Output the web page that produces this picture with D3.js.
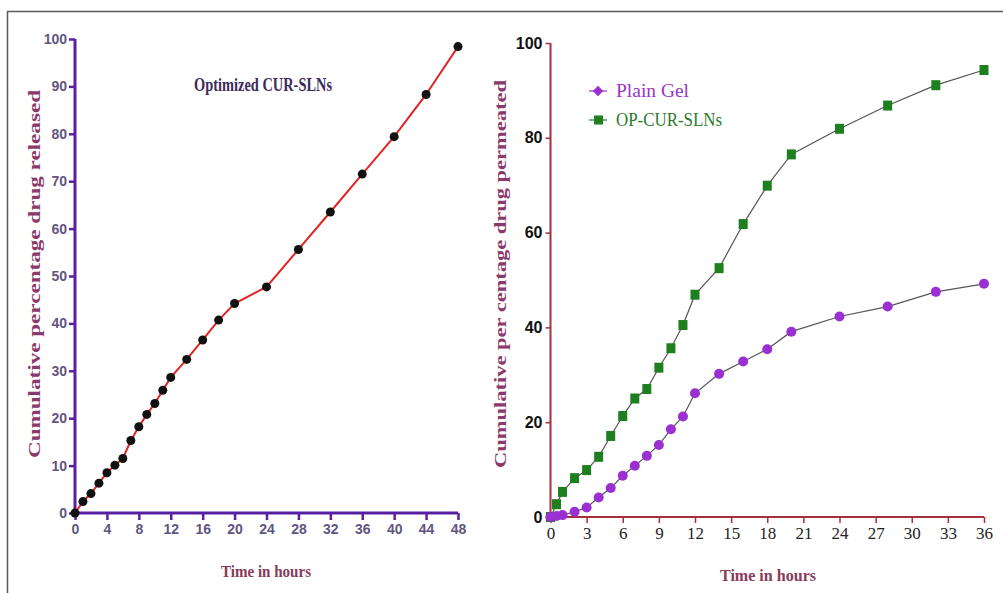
<!DOCTYPE html>
<html>
<head>
<meta charset="utf-8">
<script src="https://cdn.jsdelivr.net/npm/d3@7"></script>
<style>
  body { margin: 0; background: #fff; }
  svg { display: block; }
</style>
</head>
<body>
<div id="chart"></div>
<script>
// left panel: release
const relHours = [0, 1, 2, 3, 4, 5, 6, 7, 8, 9, 10, 11, 12, 14, 16, 18, 20, 24, 28, 32, 36, 40, 44, 48];
const relValues = [0, 2.4, 4.1, 6.3, 8.5, 10.1, 11.5, 15.3, 18.2, 20.8, 23.1, 25.9, 28.6, 32.4, 36.5, 40.7, 44.2, 47.7, 55.6, 63.5, 71.5, 79.4, 88.3, 98.4];
const relXTicks = [0, 4, 8, 12, 16, 20, 24, 28, 32, 36, 40, 44, 48];
const relYTicks = [0, 10, 20, 30, 40, 50, 60, 70, 80, 90, 100];

// right panel: permeation
const permHours = [0, 0.5, 1, 2, 3, 4, 5, 6, 7, 8, 9, 10, 11, 12, 14, 16, 18, 20, 24, 28, 32, 36];
const plainGel = [0, 0.2, 0.4, 1.1, 2.0, 4.1, 6.1, 8.7, 10.8, 12.9, 15.2, 18.5, 21.2, 26.1, 30.2, 32.8, 35.4, 39.1, 42.3, 44.4, 47.5, 49.2];
const opCurSlns = [0, 2.7, 5.3, 8.2, 9.9, 12.7, 17.1, 21.3, 25.0, 27.0, 31.5, 35.6, 40.5, 46.9, 52.5, 61.8, 69.9, 76.5, 81.9, 86.8, 91.1, 94.3];
const permXTicks = [0, 3, 6, 9, 12, 15, 18, 21, 24, 27, 30, 33, 36];
const permYTicks = [0, 20, 40, 60, 80, 100];
const seriesNames = ["Plain Gel", "OP-CUR-SLNs"];

const width = 1003, height = 593;
const svg = d3.select("#chart").append("svg")
  .attr("width", width).attr("height", height);

// frame (top + left only)
svg.append("path")
  .attr("d", "M7.5,593V11.5H1003")
  .attr("fill", "none").attr("stroke", "#5a5a5a").attr("stroke-width", 1.5);

const serif = "'Liberation Serif', 'Times New Roman', serif";
const narrow = "'Liberation Sans Narrow', 'Arial Narrow', 'Liberation Sans', sans-serif";

// ---------- left panel ----------
const lx = d3.scaleLinear().domain([0, 48]).range([75, 458]);
const ly = d3.scaleLinear().domain([0, 100]).range([513, 39]);
const leftAxisColor = "#5b1fa6";
const leftTickColor = "#5f5682";

const gLeft = svg.append("g");

const lyAxis = gLeft.append("g")
  .attr("transform", `translate(${lx(0)},0)`)
  .call(d3.axisLeft(ly).tickValues(relYTicks).tickSize(6).tickPadding(2));
const lxAxis = gLeft.append("g")
  .attr("transform", `translate(0,${ly(0)})`)
  .call(d3.axisBottom(lx).tickValues(relXTicks).tickSize(7).tickPadding(4));

[lyAxis, lxAxis].forEach(a => {
  a.select(".domain").attr("stroke", leftAxisColor).attr("stroke-width", 3);
  a.selectAll(".tick line").attr("stroke", leftAxisColor).attr("stroke-width", 2.5);
  a.selectAll(".tick text")
    .attr("fill", leftTickColor)
    .style("font-family", narrow)
    .style("font-weight", "bold")
    .style("font-size", "14px");
});
// remove outer tick overhang
lyAxis.select(".domain").attr("d", `M0,${ly(100)}V${ly(0)}`);
lxAxis.select(".domain").attr("d", `M${lx(0)},0H${lx(48)}`);

gLeft.append("path")
  .datum(relHours.map((h, i) => [h, relValues[i]]))
  .attr("fill", "none")
  .attr("stroke", "#e02424")
  .attr("stroke-width", 2)
  .attr("d", d3.line().x(d => lx(d[0])).y(d => ly(d[1])));

gLeft.selectAll(".relpt")
  .data(relHours.map((h, i) => [h, relValues[i]]))
  .join("circle")
  .attr("class", "relpt")
  .attr("cx", d => lx(d[0]))
  .attr("cy", d => ly(d[1]))
  .attr("r", 4.5)
  .attr("fill", "#111");

gLeft.append("text")
  .attr("x", 263).attr("y", 91)
  .attr("text-anchor", "middle")
  .attr("fill", "#3d2b5a")
  .style("font-family", serif).style("font-weight", "bold").style("font-size", "19px")
  .attr("textLength", 138).attr("lengthAdjust", "spacingAndGlyphs")
  .text("Optimized CUR-SLNs");

gLeft.append("text")
  .attr("transform", "translate(40,274) rotate(-90)")
  .attr("text-anchor", "middle")
  .attr("fill", "#8a3a6a")
  .style("font-family", serif).style("font-weight", "bold").style("font-size", "16px")
  .attr("textLength", 368).attr("lengthAdjust", "spacingAndGlyphs")
  .text("Cumulative percentage drug released");

gLeft.append("text")
  .attr("x", 266).attr("y", 577)
  .attr("text-anchor", "middle")
  .attr("fill", "#8a3a5a")
  .style("font-family", serif).style("font-weight", "bold").style("font-size", "17px")
  .attr("textLength", 90).attr("lengthAdjust", "spacingAndGlyphs")
  .text("Time in hours");

// ---------- right panel ----------
const rx = d3.scaleLinear().domain([0, 36]).range([550.5, 984]);
const ry = d3.scaleLinear().domain([0, 100]).range([517, 43]);
const rightAxisColor = "#a3303f";

const gRight = svg.append("g");

const ryAxis = gRight.append("g")
  .attr("transform", `translate(${rx(0)},0)`)
  .call(d3.axisLeft(ry).tickValues(permYTicks).tickSize(5).tickPadding(3));
const rxAxis = gRight.append("g")
  .attr("transform", `translate(0,${ry(0)})`)
  .call(d3.axisBottom(rx).tickValues(permXTicks).tickSize(6).tickPadding(4));

ryAxis.select(".domain").attr("d", `M0,${ry(100)}V${ry(0)}`);
rxAxis.select(".domain").attr("d", `M${rx(0)},0H${rx(36)}`);
[ryAxis, rxAxis].forEach(a => {
  a.select(".domain").attr("stroke", rightAxisColor).attr("stroke-width", 2);
  a.selectAll(".tick line").attr("stroke", rightAxisColor).attr("stroke-width", 1.5);
});
ryAxis.selectAll(".tick text")
  .attr("fill", "#111")
  .style("font-family", narrow).style("font-weight", "bold").style("font-size", "16px");
rxAxis.selectAll(".tick text")
  .attr("fill", "#222")
  .style("font-family", serif).style("font-size", "17px");

const line = d3.line().x(d => rx(d[0])).y(d => ry(d[1]));
const plainPts = permHours.map((h, i) => [h, plainGel[i]]);
const opPts = permHours.map((h, i) => [h, opCurSlns[i]]);

[plainPts, opPts].forEach(pts => {
  gRight.append("path")
    .datum(pts)
    .attr("fill", "none")
    .attr("stroke", "#555")
    .attr("stroke-width", 1.2)
    .attr("d", line);
});

gRight.selectAll(".oppt")
  .data(opPts)
  .join("rect")
  .attr("class", "oppt")
  .attr("x", d => rx(d[0]) - 4.5)
  .attr("y", d => ry(d[1]) - 5)
  .attr("width", 9).attr("height", 10)
  .attr("fill", "#1d7f1d");

gRight.selectAll(".plainpt")
  .data(plainPts)
  .join("circle")
  .attr("class", "plainpt")
  .attr("cx", d => rx(d[0]))
  .attr("cy", d => ry(d[1]))
  .attr("r", 5)
  .attr("fill", "#9a2fd2");

// legend
const legend = gRight.append("g");
const legendColors = ["#9a2fd2", "#1d7f1d"];
const legendText = ["#9a35c8", "#2a7a2a"];
seriesNames.forEach((name, i) => {
  const y = 91 + i * 29;
  legend.append("line")
    .attr("x1", 589).attr("x2", 607).attr("y1", y).attr("y2", y)
    .attr("stroke", legendColors[i]).attr("stroke-width", 1.2);
  if (i === 0) {
    legend.append("path")
      .attr("d", d3.symbol(d3.symbolDiamond2, 70)())
      .attr("transform", `translate(598,${y})`)
      .attr("fill", legendColors[i]);
  } else {
    legend.append("rect")
      .attr("x", 594).attr("y", y - 4.5).attr("width", 9).attr("height", 9)
      .attr("fill", legendColors[i]);
  }
  legend.append("text")
    .attr("x", 616).attr("y", y + 6)
    .attr("fill", legendText[i])
    .style("font-family", serif).style("font-size", "19px")
    .attr("textLength", i === 0 ? 73 : 106).attr("lengthAdjust", "spacingAndGlyphs")
    .text(name);
});

gRight.append("text")
  .attr("transform", "translate(506,274) rotate(-90)")
  .attr("text-anchor", "middle")
  .attr("fill", "#8a3a6a")
  .style("font-family", serif).style("font-weight", "bold").style("font-size", "16px")
  .attr("textLength", 388).attr("lengthAdjust", "spacingAndGlyphs")
  .text("Cumulative per centage drug permeated");

gRight.append("text")
  .attr("x", 768).attr("y", 581)
  .attr("text-anchor", "middle")
  .attr("fill", "#8a3a5a")
  .style("font-family", serif).style("font-weight", "bold").style("font-size", "17px")
  .attr("textLength", 96).attr("lengthAdjust", "spacingAndGlyphs")
  .text("Time in hours");
</script>
</body>
</html>
